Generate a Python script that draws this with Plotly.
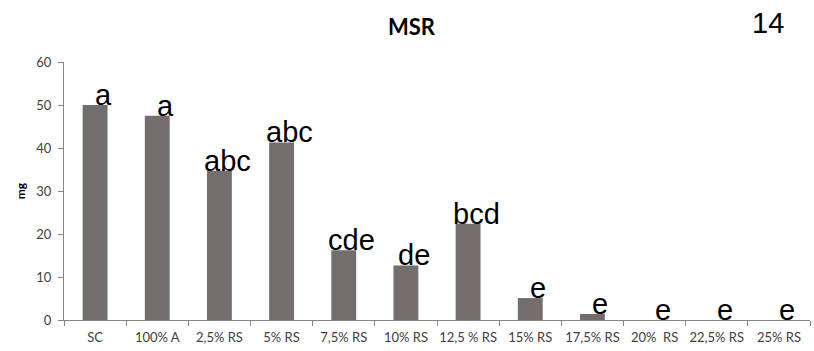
import plotly.graph_objects as go

# Treatments and mean MSR (mg)
categories = ["SC", "100% A", "2,5% RS", "5% RS", "7,5% RS", "10% RS",
              "12,5 % RS", "15% RS", "17,5% RS", "20%  RS", "22,5% RS", "25% RS"]
msr_mg = [50.0, 47.5, 34.7, 41.3, 16.2, 12.7, 22.4, 5.1, 1.4, 0.0, 0.0, 0.0]
groups = ["a", "a", "abc", "abc", "cde", "de", "bcd", "e", "e", "e", "e", "e"]
y_ticks = [0, 10, 20, 30, 40, 50, 60]

BAR = "#736e6d"
AXIS = "#868686"
TICKFONT = dict(family="Lato, Open Sans, sans-serif", size=13, color="#404040")

fig = go.Figure(go.Bar(
    x=categories, y=msr_mg, width=0.4,
    marker=dict(color=BAR, line=dict(width=0)),
    hoverinfo="x+y",
))

# Significance letters sitting on top of each bar
for cat, val, g in zip(categories, msr_mg, groups):
    fig.add_annotation(
        x=cat, y=val, text=g, showarrow=False,
        xanchor="center", yanchor="bottom", xshift=8, yshift=-8,
        font=dict(family="Arial, Liberation Sans, sans-serif", size=29, color="#000000"),
    )

fig.add_annotation(
    x=411.5, y=351 - 27, xref="paper", yref="paper", text="<b>MSR</b>",
    showarrow=False, xanchor="center", yanchor="middle",
    font=dict(family="Lato, sans-serif", size=22, color="#000000"),
)
fig.add_annotation(
    x=767.5, y=351 - 23, xref="paper", yref="paper", text="14",
    showarrow=False, xanchor="center", yanchor="middle",
    font=dict(family="Arial, Liberation Sans, sans-serif", size=29, color="#000000"),
)

W, H = 814, 351
L, R, T, B = 64, 4, 62, 31
# convert pixel positions of the free annotations into paper coordinates
for ann in fig.layout.annotations:
    if ann.xref == "paper":
        ann.x = (ann.x - L) / (W - L - R)
        ann.y = (ann.y - B) / (H - T - B)

fig.update_layout(
    width=W, height=H,
    margin=dict(l=L, r=R, t=T, b=B, pad=0, autoexpand=False),
    paper_bgcolor="white", plot_bgcolor="white",
    showlegend=False,
    bargap=0.6,
    xaxis=dict(
        type="category", range=[-0.5, 11.5],
        showline=True, linecolor=AXIS, linewidth=1,
        ticks="outside", tickson="boundaries", ticklen=5, tickcolor=AXIS,
        showgrid=False, zeroline=False, tickangle=0, automargin=False,
        tickfont=TICKFONT, ticklabelstandoff=5,
    ),
    yaxis=dict(
        range=[0, 60], tickvals=y_ticks,
        showline=True, linecolor=AXIS, linewidth=1,
        ticks="outside", ticklen=5, tickcolor=AXIS,
        showgrid=False, zeroline=False, automargin=False,
        tickfont=TICKFONT, ticklabelstandoff=4,
        title=dict(text="<b>mg</b>", standoff=8,
                   font=dict(family="Lato, sans-serif", size=12, color="#000000")),
    ),
)

fig.write_html("out.html")
